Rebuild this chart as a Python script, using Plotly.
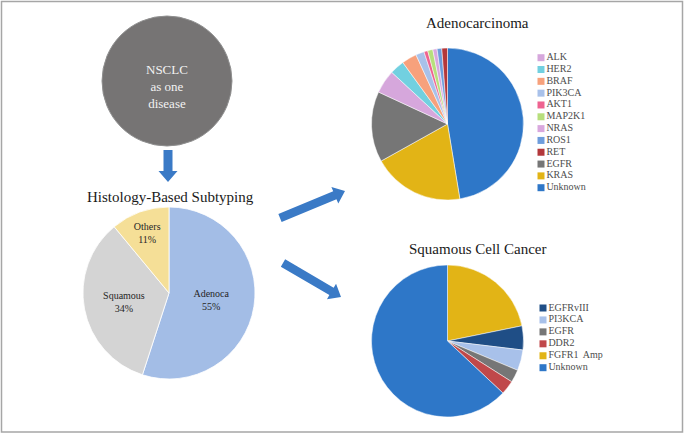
import math
import plotly.graph_objects as go

W, H = 686, 435

# ---------------- data ----------------
histo_labels = ["Adenoca", "Squamous", "Others"]
histo_values = [55, 34, 11]
histo_colors = ["#A3BDE6", "#D4D4D4", "#F5DF97"]

# Adenocarcinoma (legend order)
adeno_labels = ["ALK", "HER2", "BRAF", "PIK3CA", "AKT1", "MAP2K1", "NRAS",
                "ROS1", "RET", "EGFR", "KRAS", "Unknown"]
adeno_values = [5.0, 3.1, 3.2, 1.8, 0.8, 1.1, 0.9, 1.0, 1.2, 15.0, 19.5, 47.4]
adeno_colors = ["#D6A7DC", "#72D0E0", "#F7A17C", "#A8C1EA", "#EE6390", "#B7DF7C",
                "#D9A8DE", "#6E9DDC", "#B3383B", "#767676", "#E2B416", "#2E77C8"]
# clockwise order of the slices starting at 12 o'clock
adeno_slice_order = ["Unknown", "KRAS", "EGFR", "ALK", "HER2", "BRAF", "PIK3CA",
                     "AKT1", "MAP2K1", "NRAS", "ROS1", "RET"]

# Squamous cell cancer (legend order)
squam_labels = ["EGFRvIII", "PI3KCA", "EGFR", "DDR2", "FGFR1  Amp", "Unknown"]
squam_values = [5.1, 4.4, 2.7, 3.0, 21.8, 63.0]
squam_colors = ["#1F4E86", "#A8C1EA", "#767676", "#C0484A", "#E2B416", "#2E77C8"]
squam_slice_order = ["FGFR1  Amp", "EGFRvIII", "PI3KCA", "EGFR", "DDR2", "Unknown"]

SERIF = "Liberation Serif"


def domain(cx, cy, r):
    return dict(x=[(cx - r) / W, (cx + r) / W], y=[1 - (cy + r) / H, 1 - (cy - r) / H])


def reorder(order, labels, values, colors):
    idx = [labels.index(o) for o in order]
    return [labels[i] for i in idx], [values[i] for i in idx], [colors[i] for i in idx]


fig = go.Figure()

# histology pie
fig.add_trace(go.Pie(
    labels=histo_labels, values=histo_values, sort=False, direction="clockwise",
    marker=dict(colors=histo_colors, line=dict(color="white", width=0.8)),
    domain=domain(169, 293, 86), texttemplate="%{label}<br>%{percent:.0%}",
    textposition="inside", insidetextorientation="horizontal",
    textfont=dict(family=SERIF, size=10, color="#262626"),
    showlegend=False, hoverinfo="label+percent",
))

al, av, ac = reorder(adeno_slice_order, adeno_labels, adeno_values, adeno_colors)
fig.add_trace(go.Pie(
    labels=al, values=av, sort=False, direction="clockwise",
    marker=dict(colors=ac, line=dict(color="white", width=0.5)),
    domain=domain(447.5, 124, 76), textinfo="none", showlegend=False,
))

sl, sv, sc = reorder(squam_slice_order, squam_labels, squam_values, squam_colors)
fig.add_trace(go.Pie(
    labels=sl, values=sv, sort=False, direction="clockwise",
    marker=dict(colors=sc, line=dict(color="white", width=0.5)),
    domain=domain(447.5, 341, 76), textinfo="none", showlegend=False,
))

# legends drawn as categorical scatter on their own y axes
fig.add_trace(go.Scatter(
    x=[541] * len(adeno_labels), y=adeno_labels, xaxis="x", yaxis="y2",
    mode="markers+text", marker=dict(symbol="square", size=7, color=adeno_colors),
    text=adeno_labels, textposition="middle right",
    textfont=dict(family=SERIF, size=10, color="#4D4D4D"), showlegend=False,
    hoverinfo="skip", cliponaxis=False,
))
fig.add_trace(go.Scatter(
    x=[543] * len(squam_labels), y=squam_labels, xaxis="x", yaxis="y3",
    mode="markers+text", marker=dict(symbol="square", size=7, color=squam_colors),
    text=squam_labels, textposition="middle right",
    textfont=dict(family=SERIF, size=10, color="#4D4D4D"), showlegend=False,
    hoverinfo="skip", cliponaxis=False,
))


def leg_domain(first_y, last_y, n):
    step = (last_y - first_y) / (n - 1)
    top = first_y - step / 2
    bot = last_y + step / 2
    return [1 - bot / H, 1 - top / H]


def block_arrow(x0, y0, x1, y1, shaft=8.5, head=18, head_len=11):
    dx, dy = x1 - x0, y1 - y0
    L = math.hypot(dx, dy)
    ux, uy = dx / L, dy / L
    px, py = -uy, ux
    bx, by = x1 - ux * head_len, y1 - uy * head_len
    pts = [
        (x0 + px * shaft / 2, y0 + py * shaft / 2),
        (bx + px * shaft / 2, by + py * shaft / 2),
        (bx + px * head / 2, by + py * head / 2),
        (x1, y1),
        (bx - px * head / 2, by - py * head / 2),
        (bx - px * shaft / 2, by - py * shaft / 2),
        (x0 - px * shaft / 2, y0 - py * shaft / 2),
    ]
    return "M " + " L ".join(f"{x:.2f},{y:.2f}" for x, y in pts) + " Z"


ARROW = "#3A7AC6"
shapes = [
    dict(type="rect", xref="x", yref="y", x0=1.5, y0=1.5, x1=682.5, y1=432,
         line=dict(color="#A6A6A6", width=1.5)),
    dict(type="circle", xref="x", yref="y", x0=102, y0=16, x1=232, y1=146,
         fillcolor="#767474", line=dict(color="#909090", width=1)),
    dict(type="path", xref="x", yref="y", path=block_arrow(168, 150, 168, 182, shaft=9, head=19, head_len=11),
         fillcolor=ARROW, line=dict(width=0)),
    dict(type="path", xref="x", yref="y", path=block_arrow(280, 218, 345, 191),
         fillcolor=ARROW, line=dict(width=0)),
    dict(type="path", xref="x", yref="y", path=block_arrow(283, 263, 341, 297),
         fillcolor=ARROW, line=dict(width=0)),
]

annotations = [
    dict(x=167, y=86, xref="x", yref="y", text="NSCLC<br>as one<br>disease", showarrow=False,
         font=dict(family=SERIF, size=13, color="#F2F2F2")),
    dict(x=170, y=197, xref="x", yref="y", text="Histology-Based Subtyping", showarrow=False,
         font=dict(family=SERIF, size=15, color="#1A1A1A")),
    dict(x=477, y=23, xref="x", yref="y", text="Adenocarcinoma", showarrow=False,
         font=dict(family=SERIF, size=15, color="#1A1A1A")),
    dict(x=477, y=249, xref="x", yref="y", text="Squamous Cell Cancer", showarrow=False,
         font=dict(family=SERIF, size=15, color="#1A1A1A")),
]

fig.update_layout(
    width=W, height=H, margin=dict(l=0, r=0, t=0, b=0),
    paper_bgcolor="white", plot_bgcolor="rgba(0,0,0,0)",
    font=dict(family=SERIF),
    xaxis=dict(range=[0, W], domain=[0, 1], visible=False, fixedrange=True),
    yaxis=dict(range=[H, 0], domain=[0, 1], visible=False, fixedrange=True),
    yaxis2=dict(domain=leg_domain(57.7, 187.7, len(adeno_labels)), anchor="x",
                type="category", categoryorder="array", categoryarray=adeno_labels,
                range=[len(adeno_labels) - 0.5, -0.5], visible=False, fixedrange=True),
    yaxis3=dict(domain=leg_domain(308, 367.7, len(squam_labels)), anchor="x",
                type="category", categoryorder="array", categoryarray=squam_labels,
                range=[len(squam_labels) - 0.5, -0.5], visible=False, fixedrange=True),
    shapes=shapes, annotations=annotations, showlegend=False,
)

fig.write_html("out.html", config={"displayModeBar": False},
               post_script="document.body.style.margin='0';document.body.style.overflow='hidden';")
